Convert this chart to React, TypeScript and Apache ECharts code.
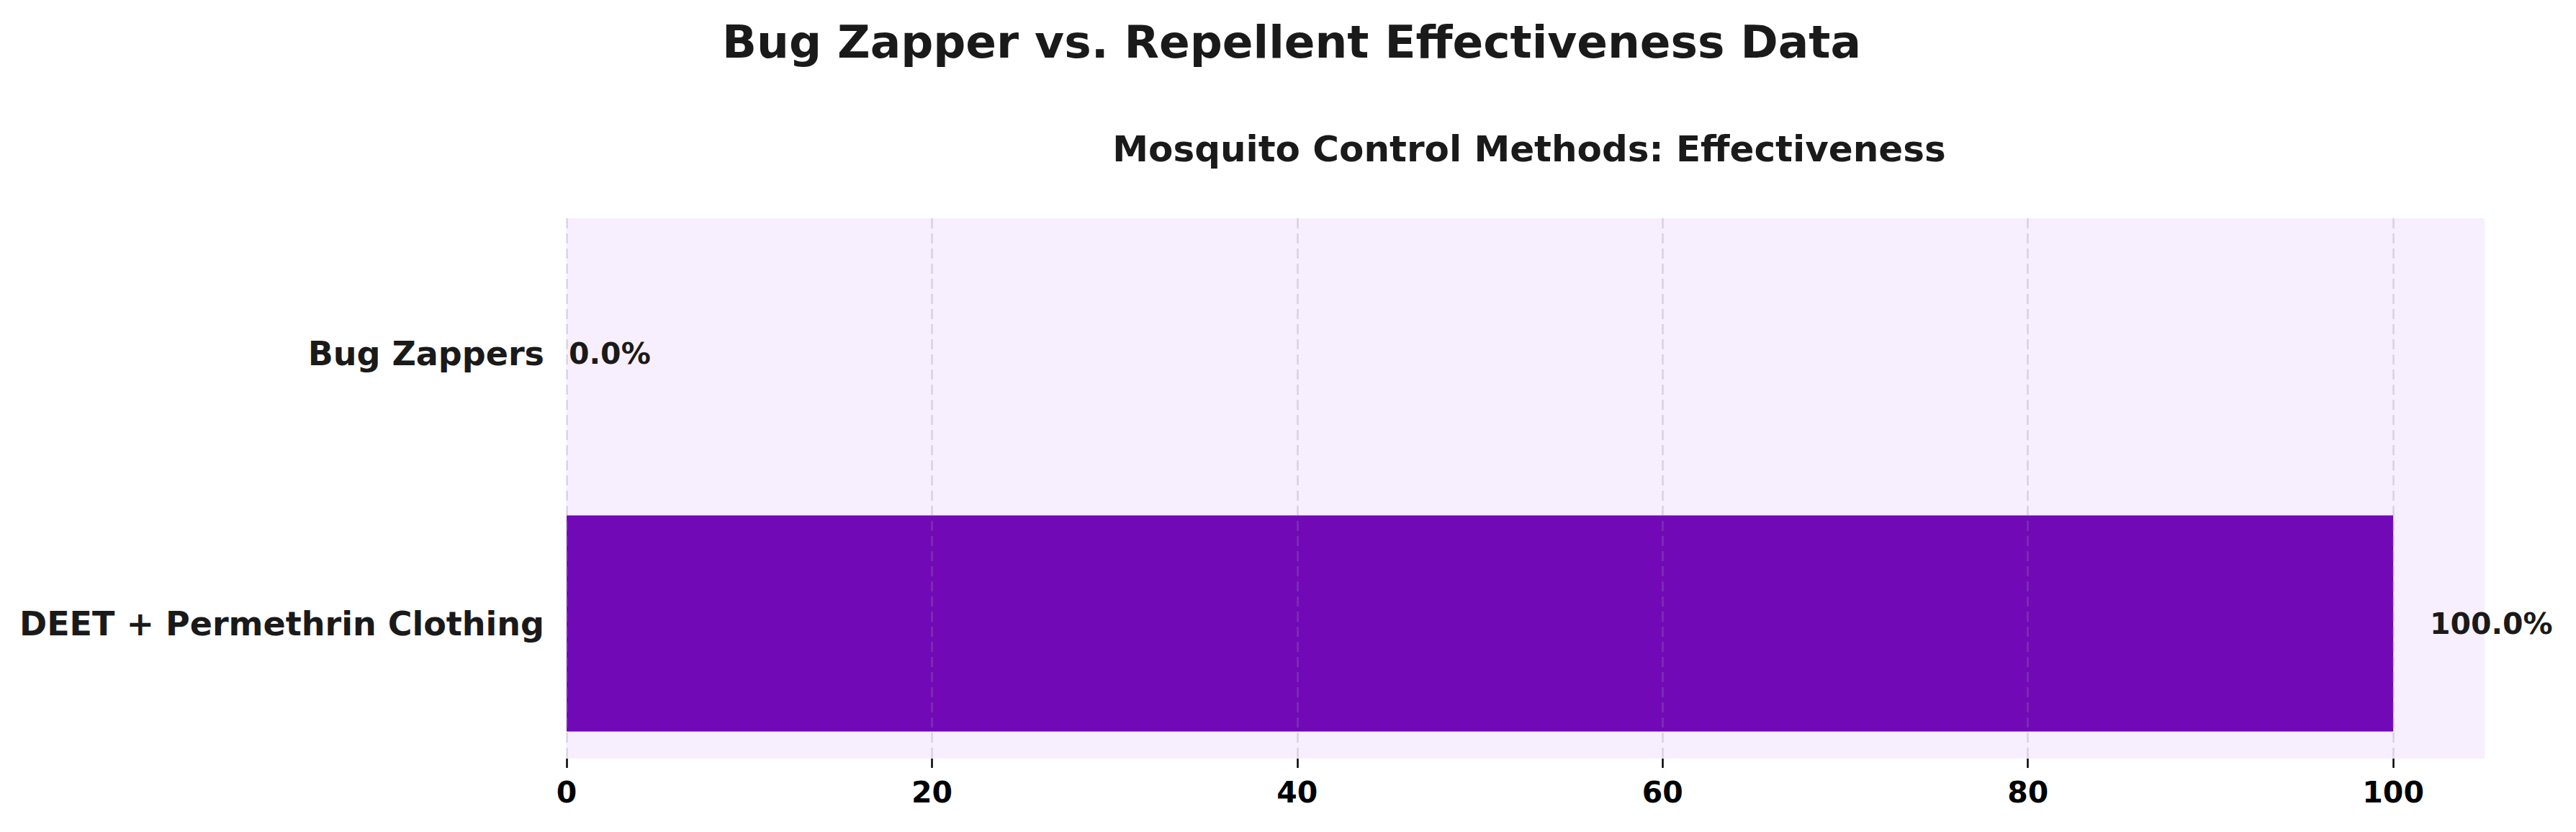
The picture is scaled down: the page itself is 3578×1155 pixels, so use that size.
import React, { useEffect, useRef } from 'react';
import * as echarts from 'echarts';

// Data
const methods = ['DEET + Permethrin Clothing', 'Bug Zappers'];
const effectiveness = [100, 0];
const xTicks = [0, 20, 40, 60, 80, 100];

const WIDTH = 3578;
const HEIGHT = 1155;
const X_MAX = 105;
const GRID = { left: 787, right: 127, top: 303, bottom: 102 };

const TEXT = '#1a1a1a';
const BAR = '#7209B7';
const PLOT_BG = '#F7EFFD';

const App: React.FC = () => {
  const chartRef = useRef<HTMLDivElement>(null);

  useEffect(() => {
    document.body.style.margin = '0';
    if (!chartRef.current) return;

    const chart = echarts.init(chartRef.current, undefined, { renderer: 'svg' });
    const pxPerUnit = (WIDTH - GRID.left - GRID.right) / X_MAX;

    const option: echarts.EChartsOption = {
      animation: false,
      backgroundColor: '#ffffff',
      textStyle: { fontFamily: 'DejaVu Sans' },
      title: [
        {
          text: 'Bug Zapper vs. Repellent Effectiveness Data',
          left: WIDTH / 2,
          top: 22,
          textAlign: 'center',
          textStyle: { fontSize: 63, fontWeight: 'bold', color: TEXT, fontFamily: 'DejaVu Sans' }
        },
        {
          text: 'Mosquito Control Methods: Effectiveness',
          left: GRID.left + (WIDTH - GRID.left - GRID.right) / 2,
          top: 177,
          textAlign: 'center',
          textStyle: { fontSize: 50, fontWeight: 'bold', color: TEXT, fontFamily: 'DejaVu Sans' }
        }
      ],
      grid: {
        ...GRID,
        show: true,
        backgroundColor: PLOT_BG,
        borderWidth: 0,
        containLabel: false
      },
      xAxis: {
        type: 'value',
        min: 0,
        max: X_MAX,
        interval: 20,
        z: 3,
        axisLine: { show: false },
        axisTick: {
          show: true,
          customValues: xTicks,
          length: 13,
          lineStyle: { color: '#000', width: 2.5 }
        },
        axisLabel: {
          customValues: xTicks,
          margin: 26,
          color: '#000',
          fontSize: 41,
          fontWeight: 'bold',
          fontFamily: 'DejaVu Sans'
        },
        splitLine: {
          show: true,
          lineStyle: { color: 'rgba(150,140,170,0.3)', width: 2.5, type: [14, 7] }
        }
      },
      yAxis: {
        type: 'category',
        data: methods,
        axisLine: { show: false },
        axisTick: { show: false },
        splitLine: { show: false },
        axisLabel: {
          margin: 31,
          color: TEXT,
          fontSize: 46,
          fontWeight: 'bold',
          fontFamily: 'DejaVu Sans'
        }
      },
      series: [
        {
          type: 'bar',
          barWidth: '80%',
          itemStyle: { color: BAR },
          data: effectiveness.map(v => ({
            value: v,
            label: { distance: Math.max(3, v * 0.02 * pxPerUnit) }
          })),
          label: {
            show: true,
            position: 'right',
            formatter: (p: any) => `${Number(p.value).toFixed(1)}%`,
            color: TEXT,
            fontSize: 41,
            fontWeight: 'bold',
            fontFamily: 'DejaVu Sans'
          }
        }
      ]
    };

    chart.setOption(option);

    return () => {
      chart.dispose();
    };
  }, []);

  return <div ref={chartRef} style={{ width: `${WIDTH}px`, height: `${HEIGHT}px` }} />;
};

export default App;
